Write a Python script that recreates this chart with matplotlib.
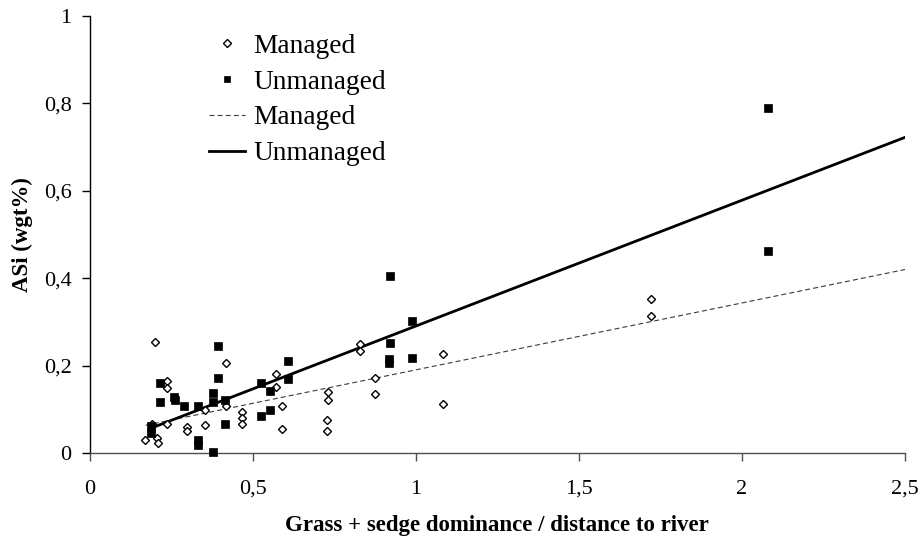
import matplotlib
matplotlib.use("Agg")
import matplotlib.pyplot as plt
import numpy as np

plt.rcParams['font.family'] = ['Liberation Serif', 'DejaVu Serif']

# ---- data ----
managed_x = [0.169, 0.190, 0.200, 0.207, 0.210, 0.236, 0.236, 0.238, 0.300, 0.300,
             0.354, 0.354, 0.419, 0.419, 0.467, 0.467, 0.467, 0.573, 0.573, 0.589,
             0.589, 0.727, 0.727, 0.732, 0.732, 0.829, 0.829, 0.875, 0.875, 1.082,
             1.082, 1.720, 1.720]
managed_y = [0.030, 0.066, 0.254, 0.036, 0.024, 0.165, 0.150, 0.066, 0.059, 0.051,
             0.098, 0.065, 0.207, 0.107, 0.095, 0.081, 0.068, 0.182, 0.152, 0.107,
             0.055, 0.075, 0.051, 0.140, 0.122, 0.250, 0.234, 0.171, 0.136, 0.228,
             0.112, 0.352, 0.313]

unmanaged_x = [0.187, 0.187, 0.216, 0.216, 0.259, 0.262, 0.289, 0.331, 0.331, 0.331,
               0.378, 0.378, 0.378, 0.395, 0.395, 0.415, 0.415, 0.527, 0.527, 0.552,
               0.552, 0.609, 0.609, 0.918, 0.918, 0.921, 0.921, 0.987, 0.988, 2.080,
               2.080]
unmanaged_y = [0.062, 0.047, 0.161, 0.117, 0.128, 0.121, 0.108, 0.108, 0.030, 0.018,
               0.138, 0.118, 0.002, 0.245, 0.171, 0.121, 0.066, 0.161, 0.085, 0.142,
               0.100, 0.212, 0.169, 0.216, 0.207, 0.251, 0.405, 0.302, 0.218, 0.788,
               0.462]

# trend lines
managed_trend_x = [0.172, 2.5]
managed_trend_y = [0.064, 0.420]
unmanaged_trend_x = [0.187, 2.5]
unmanaged_trend_y = [0.057, 0.722]

x_ticks = [0, 0.5, 1.0, 1.5, 2.0, 2.5]
x_ticklabels = ['0', '0,5', '1', '1,5', '2', '2,5']
y_ticks = [0, 0.2, 0.4, 0.6, 0.8, 1.0]
y_ticklabels = ['0', '0,2', '0,4', '0,6', '0,8', '1']

x_label = 'Grass + sedge dominance / distance to river'
y_label = 'ASi (wgt%)'
legend_labels = ['Managed', 'Unmanaged', 'Managed', 'Unmanaged']

# ---- figure ----
fig = plt.figure(figsize=(9.22, 5.37), dpi=100)
ax = fig.add_axes([89.6 / 922, (537 - 453.3) / 537, 815.4 / 922, 437.6 / 537])

h1, = ax.plot(managed_x, managed_y, linestyle='none', marker='D', markersize=4.5,
              markerfacecolor='white', markeredgecolor='black', markeredgewidth=1.0,
              clip_on=False, zorder=3)
h2, = ax.plot(unmanaged_x, unmanaged_y, linestyle='none', marker='s', markersize=5.8,
              markerfacecolor='black', markeredgecolor='black', markeredgewidth=0.5,
              clip_on=False, zorder=4)
h3, = ax.plot(managed_trend_x, managed_trend_y, color='#3a3a3a', linewidth=0.8,
              linestyle=(0, (4.5, 2.8)), zorder=2)
h4, = ax.plot(unmanaged_trend_x, unmanaged_trend_y, color='black', linewidth=2.0,
              zorder=2)

ax.set_xlim(0, 2.5)
ax.set_ylim(0, 1)
ax.set_xticks(x_ticks)
ax.set_xticklabels(x_ticklabels)
ax.set_yticks(y_ticks)
ax.set_yticklabels(y_ticklabels)

for s in ['top', 'right']:
    ax.spines[s].set_visible(False)
ax.spines['left'].set_color('black')
ax.spines['left'].set_linewidth(1.0)
ax.spines['bottom'].set_color('#505050')
ax.spines['bottom'].set_linewidth(1.0)

ax.tick_params(axis='y', direction='out', length=6, width=1.0, pad=7,
               labelsize=16, colors='black')
ax.tick_params(axis='x', direction='out', length=5.5, width=1.0, pad=13.5,
               labelsize=16, colors='black')
ax.tick_params(axis='x', color='#505050')

ax.set_xlabel(x_label, fontsize=16.5, fontweight='bold')
ax.set_ylabel(y_label, fontsize=16.5, fontweight='bold')
ax.xaxis.set_label_coords(0.5, -0.142)
ax.yaxis.set_label_coords(-0.0694, 0.5)

leg = ax.legend([h1, h2, h3, h4], legend_labels, loc='upper left',
                bbox_to_anchor=(0.147, 0.959), frameon=False, fontsize=19.7,
                handlelength=1.3, handletextpad=0.3, labelspacing=0.39,
                borderpad=0, borderaxespad=0, markerscale=0.85)

fig.savefig('out.png', dpi=100)
